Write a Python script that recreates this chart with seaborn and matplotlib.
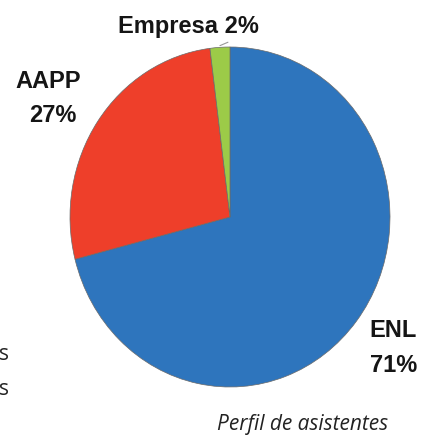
import numpy as np
import matplotlib
matplotlib.use("Agg")
import matplotlib.pyplot as plt
import seaborn as sns

## data
categories = ['ENL', 'AAPP', 'Empresa']
shares = [71, 27, 2]
colors = ['#2E75BD', '#EE3F2A', '#9CCB48']

sns.set_theme(style='white')
plt.rcParams['font.family'] = ['Liberation Sans', 'DejaVu Sans']

W, H = 422, 436
fig = plt.figure(figsize=(W / 100, H / 100), dpi=100)
fig.patch.set_facecolor('white')

# pie box in pixels: left 70, right 390, top 47, bottom 387 (slightly taller than wide)
ax = fig.add_axes([70 / W, (H - 387) / H, 320 / W, 340 / H])
wedges, _ = ax.pie(shares, colors=colors, startangle=90, counterclock=False,
                   wedgeprops=dict(edgecolor='#6a6a6a', linewidth=0.5))
ax.set_aspect('auto')
ax.set_xlim(-1, 1)
ax.set_ylim(-1, 1)
ax.axis('off')

# tiny leader line for the small slice
w = wedges[2]
mid = np.deg2rad((w.theta1 + w.theta2) / 2)
ax.plot([np.cos(mid), np.cos(mid) + 0.05], [np.sin(mid) + 0.01, np.sin(mid) + 0.03],
        color='#999999', lw=0.8, clip_on=False)

def px(x, y):
    return x / W, 1 - y / H

lab = dict(fontsize=17, fontweight='bold', color='#151515', ha='center', va='center')
fig.text(*px(188, 27), f'{categories[2]} {shares[2]}%', **lab)
fig.text(*px(48, 81), categories[1], **lab)
fig.text(*px(53, 115), f'{shares[1]}%', **lab)
fig.text(*px(393, 330), categories[0], **lab)
fig.text(*px(394, 365), f'{shares[0]}%', **lab)

# caption and clipped text from the neighbouring column
body = dict(fontsize=15, family=['Open Sans', 'DejaVu Sans'], color='#222222', va='center')
fig.text(*px(303, 424), 'Perfil de asistentes', style='italic', ha='center', **body)
fig.text(*px(-1, 354), 's', ha='left', **body)
fig.text(*px(-1, 389), 's', ha='left', **body)

fig.savefig('out.png', dpi=100, facecolor='white')
